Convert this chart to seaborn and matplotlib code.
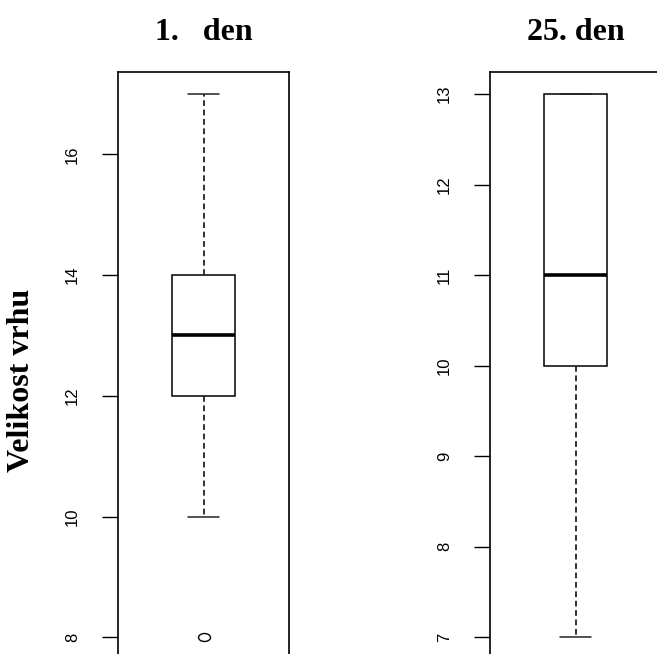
import numpy as np
import matplotlib
matplotlib.use("Agg")
import matplotlib.pyplot as plt
from matplotlib.path import Path
from matplotlib.transforms import Affine2D
import seaborn as sns

# Litter sizes recorded on the first and the 25th day
day_titles = ["1.   den", "25. den"]
day1_litter = [8, 10, 11, 12, 12, 12, 13, 13, 13, 13, 14, 14, 14, 15, 16, 17]
day25_litter = [7, 9, 10, 10, 11, 11, 12, 13, 13, 13, 13]
day1_ticks = [8, 10, 12, 14, 16]
day25_ticks = [7, 8, 9, 10, 11, 12, 13]
y_label = "Velikost vrhu"

sns.set_style("white")
plt.rcParams["font.family"] = ["Liberation Sans", "DejaVu Sans"]
plt.rcParams["text.color"] = "black"
plt.rcParams["axes.labelcolor"] = "black"
plt.rcParams["ytick.color"] = "black"

W, H = 657, 654
fig = plt.figure(figsize=(W / 100, H / 100), dpi=100)

# panel geometry in pixels
ax_w = 171
top_px, bot_px = 72.3, 659.0
lefts = [118, 490]

# open, slightly flattened oval used for outliers
oval = Path.unit_circle().transformed(Affine2D().scale(1.5, 1.0))

serif_bold = dict(family=["Liberation Serif", "DejaVu Serif"], weight="bold",
                  color="black")

panels = [(day1_litter, day1_ticks), (day25_litter, day25_ticks)]
for i, (vals, ticks) in enumerate(panels):
    ax = fig.add_axes([lefts[i] / W, (H - bot_px) / H, ax_w / W, (bot_px - top_px) / H])
    sns.boxplot(
        y=vals, ax=ax, width=0.4, color="white", linecolor="black",
        linewidth=1.1, fill=True,
        whiskerprops=dict(linestyle=(0, (3.2, 2.0)), linewidth=1.3, color="#222222"),
        capprops=dict(linewidth=1.1, color="#222222"),
        medianprops=dict(linewidth=2.6, color="black"),
    )
    # restyle the outlier markers as open ovals
    for ln in ax.lines:
        if str(ln.get_linestyle()).lower() in ("none", "") and len(ln.get_ydata()) > 0:
            ln.set_marker(oval)
            ln.set_markersize(8.6)
            ln.set_markerfacecolor("none")
            ln.set_markeredgecolor("black")
            ln.set_markeredgewidth(1.0)
    lo, hi = min(vals), max(vals)
    pad = 0.04 * (hi - lo)
    ax.set_ylim(lo - pad, hi + pad)
    ax.set_xlim(-0.54, 0.54)
    ax.set_xticks([])
    ax.set_yticks(ticks)
    ax.set_yticklabels([str(t) for t in ticks])
    ax.set_ylabel("")
    ax.tick_params(axis="y", direction="out", length=11.5, width=1.0,
                   pad=16, labelsize=12, colors="black", left=True)
    for lab in ax.get_yticklabels():
        lab.set_rotation(90)
        lab.set_va("center")
        lab.set_color("black")
    for sp in ax.spines.values():
        sp.set_visible(True)
        sp.set_color("black")
        sp.set_linewidth(1.2)
    ax.set_title(day_titles[i], fontsize=23, pad=23, **serif_bold)

fig.text(22 / W, (H - 380.5) / H, y_label, rotation=90, ha="center", va="center",
         fontsize=23, **serif_bold)

fig.savefig("out.png", dpi=100)
